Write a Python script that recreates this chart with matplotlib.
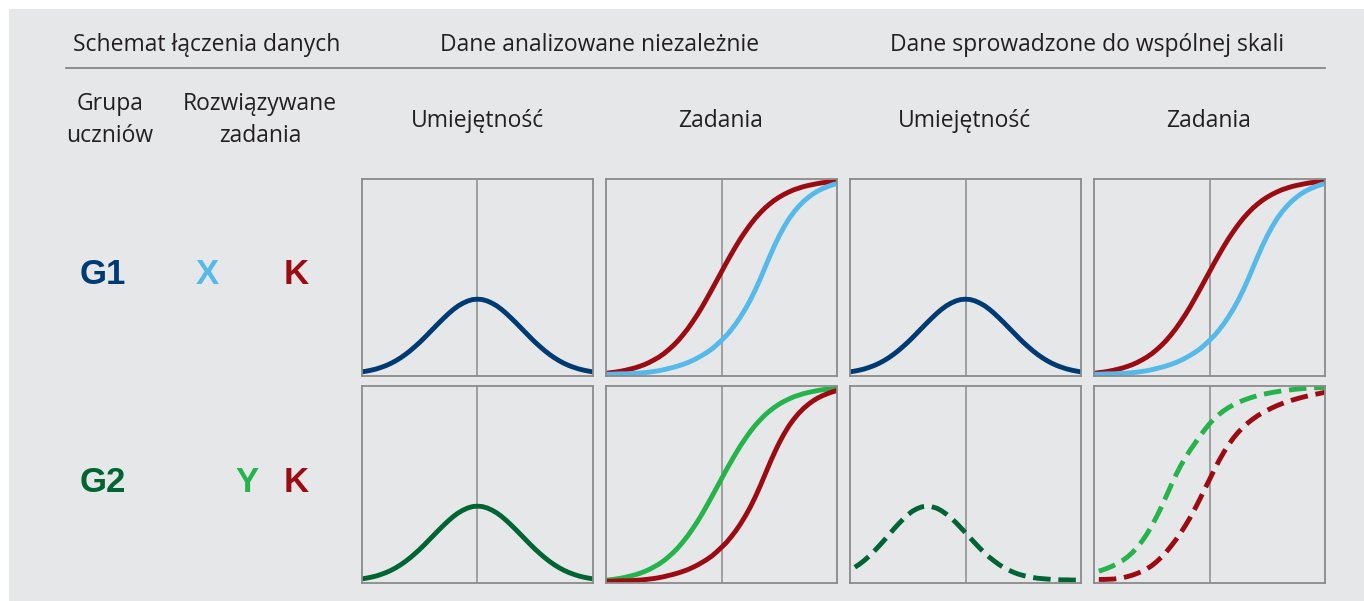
import matplotlib
matplotlib.use("Agg")
import matplotlib.pyplot as plt
from matplotlib.lines import Line2D
from matplotlib.patches import Rectangle

plt.rcParams['font.family'] = ['Open Sans', 'DejaVu Sans']

# ability scale (x) shared by the panels, step 0.125
x_grid = [-3.0, -2.875, -2.75, -2.625, -2.5, -2.375, -2.25, -2.125, -2.0, -1.875, -1.75, -1.625,
          -1.5, -1.375, -1.25, -1.125, -1.0, -0.875, -0.75, -0.625, -0.5, -0.375, -0.25, -0.125,
          0.0, 0.125, 0.25, 0.375, 0.5, 0.625, 0.75, 0.875, 1.0, 1.125, 1.25, 1.375,
          1.5, 1.625, 1.75, 1.875, 2.0, 2.125, 2.25, 2.375, 2.5, 2.625, 2.75, 2.875, 3.0]

# skill distributions (height as share of panel)
skill_g1 = [0.021, 0.025, 0.030, 0.036, 0.044, 0.053, 0.064, 0.077, 0.092, 0.109, 0.128, 0.149,
            0.171, 0.195, 0.220, 0.245, 0.270, 0.294, 0.317, 0.338, 0.356, 0.370, 0.381, 0.388,
            0.390, 0.388, 0.381, 0.370, 0.356, 0.338, 0.317, 0.294, 0.270, 0.245, 0.220, 0.195,
            0.171, 0.149, 0.128, 0.109, 0.092, 0.077, 0.064, 0.053, 0.044, 0.036, 0.030, 0.025, 0.021]
skill_g2 = [0.021, 0.025, 0.030, 0.036, 0.044, 0.053, 0.064, 0.077, 0.092, 0.109, 0.128, 0.149,
            0.171, 0.195, 0.220, 0.245, 0.270, 0.294, 0.317, 0.338, 0.356, 0.370, 0.381, 0.388,
            0.390, 0.388, 0.381, 0.370, 0.356, 0.338, 0.317, 0.294, 0.270, 0.245, 0.220, 0.195,
            0.171, 0.149, 0.128, 0.109, 0.092, 0.077, 0.064, 0.053, 0.044, 0.036, 0.030, 0.025, 0.021]

# item curves, independent analysis
task_k_g1 = [0.014, 0.017, 0.020, 0.024, 0.029, 0.035, 0.041, 0.049, 0.058, 0.069, 0.082, 0.096,
             0.113, 0.133, 0.155, 0.180, 0.209, 0.240, 0.275, 0.312, 0.352, 0.395, 0.439, 0.484,
             0.529, 0.574, 0.617, 0.659, 0.699, 0.735, 0.769, 0.800, 0.827, 0.852, 0.873, 0.892,
             0.908, 0.922, 0.934, 0.945, 0.953, 0.961, 0.967, 0.972, 0.977, 0.981, 0.984, 0.986, 0.989]
task_x_g1 = [0.009, 0.009, 0.010, 0.011, 0.011, 0.012, 0.013, 0.015, 0.017, 0.020, 0.023, 0.027,
             0.032, 0.038, 0.044, 0.051, 0.059, 0.068, 0.079, 0.091, 0.105, 0.120, 0.137, 0.158,
             0.181, 0.205, 0.234, 0.266, 0.302, 0.342, 0.386, 0.436, 0.490, 0.548, 0.606, 0.661,
             0.712, 0.757, 0.797, 0.831, 0.860, 0.885, 0.906, 0.924, 0.939, 0.951, 0.961, 0.970, 0.977]
task_y_g2 = [0.014, 0.017, 0.020, 0.024, 0.029, 0.035, 0.041, 0.049, 0.058, 0.069, 0.082, 0.096,
             0.113, 0.133, 0.155, 0.180, 0.209, 0.240, 0.275, 0.312, 0.352, 0.395, 0.439, 0.484,
             0.529, 0.574, 0.617, 0.659, 0.699, 0.735, 0.769, 0.800, 0.827, 0.852, 0.873, 0.892,
             0.908, 0.922, 0.934, 0.945, 0.953, 0.961, 0.967, 0.972, 0.977, 0.981, 0.984, 0.986, 0.989]
task_k_g2 = [0.009, 0.009, 0.010, 0.011, 0.011, 0.012, 0.013, 0.015, 0.017, 0.020, 0.023, 0.027,
             0.032, 0.038, 0.044, 0.051, 0.059, 0.068, 0.079, 0.091, 0.105, 0.120, 0.137, 0.158,
             0.181, 0.205, 0.234, 0.266, 0.302, 0.342, 0.386, 0.436, 0.490, 0.548, 0.606, 0.661,
             0.712, 0.757, 0.797, 0.831, 0.860, 0.885, 0.906, 0.924, 0.939, 0.951, 0.961, 0.970, 0.977]

# G2 after linking to the common scale (dashed)
x_linked = x_grid[1:]
skill_g2_linked = [0.080, 0.096, 0.115, 0.137, 0.161, 0.187, 0.214, 0.242, 0.271, 0.298, 0.323,
                   0.346, 0.365, 0.378, 0.387, 0.390, 0.387, 0.380, 0.367, 0.350, 0.330, 0.307, 0.281,
                   0.255, 0.228, 0.202, 0.176, 0.152, 0.130, 0.111, 0.093, 0.078, 0.065, 0.054, 0.045,
                   0.038, 0.032, 0.028, 0.024, 0.022, 0.020, 0.018, 0.017, 0.016, 0.016, 0.015, 0.015, 0.015]
task_y_linked = [0.060, 0.068, 0.077, 0.088, 0.101, 0.115, 0.133, 0.155, 0.182, 0.213, 0.249,
                 0.290, 0.336, 0.386, 0.440, 0.495, 0.547, 0.595, 0.637, 0.675, 0.710, 0.745, 0.778,
                 0.808, 0.834, 0.856, 0.875, 0.891, 0.905, 0.917, 0.927, 0.936, 0.944, 0.951, 0.957,
                 0.962, 0.967, 0.971, 0.975, 0.978, 0.981, 0.984, 0.986, 0.988, 0.990, 0.991, 0.992, 0.993]
task_k_linked = [0.018, 0.018, 0.019, 0.020, 0.023, 0.027, 0.033, 0.040, 0.049, 0.059, 0.072,
                 0.088, 0.108, 0.131, 0.157, 0.187, 0.219, 0.254, 0.292, 0.333, 0.378, 0.426, 0.476,
                 0.525, 0.575, 0.622, 0.665, 0.703, 0.737, 0.766, 0.791, 0.813, 0.832, 0.849, 0.864,
                 0.877, 0.889, 0.900, 0.910, 0.919, 0.927, 0.934, 0.941, 0.947, 0.953, 0.958, 0.963, 0.968]

DARK_BLUE = '#003a73'
LIGHT_BLUE = '#55b9e9'
RED = '#9c0a12'
GREEN = '#25b34b'
DARK_GREEN = '#006532'
BG = '#e6e7e9'
FRAME = '#8b8b8b'
TXT = '#231f20'

W, H = 1364, 601
fig = plt.figure(figsize=(W / 100, H / 100), dpi=100)
fig.patch.set_facecolor('white')
fig.add_artist(Rectangle((9 / W, 0), (W - 9) / W, (H - 9) / H, transform=fig.transFigure,
                         facecolor=BG, edgecolor='none', zorder=-10))


def fx(px):
    return px / W


def fy(py):
    return 1 - py / H


def panel(col, row):
    lefts = [362, 606, 850, 1094]
    tops = [179, 386]
    w, h = 231, 197
    ax = fig.add_axes([fx(lefts[col]), fy(tops[row] + h), w / W, h / H])
    ax.set_facecolor(BG)
    ax.set_xlim(-3, 3)
    ax.set_ylim(0, 1)
    ax.set_xticks([])
    ax.set_yticks([])
    for s in ax.spines.values():
        s.set_color(FRAME)
        s.set_linewidth(1.3)
    ax.axvline(0, color=FRAME, lw=1.1, zorder=1)
    return ax


lw = 3.5
dash = (0, (3.6, 1.6))

ax = panel(0, 0)
ax.plot(x_grid, skill_g1, color=DARK_BLUE, lw=lw, solid_capstyle='butt')
ax = panel(1, 0)
ax.plot(x_grid, task_k_g1, color=RED, lw=lw, solid_capstyle='butt')
ax.plot(x_grid, task_x_g1, color=LIGHT_BLUE, lw=lw, solid_capstyle='butt')
ax = panel(2, 0)
ax.plot(x_grid, skill_g1, color=DARK_BLUE, lw=lw, solid_capstyle='butt')
ax = panel(3, 0)
ax.plot(x_grid, task_k_g1, color=RED, lw=lw, solid_capstyle='butt')
ax.plot(x_grid, task_x_g1, color=LIGHT_BLUE, lw=lw, solid_capstyle='butt')

ax = panel(0, 1)
ax.plot(x_grid, skill_g2, color=DARK_GREEN, lw=lw, solid_capstyle='butt')
ax = panel(1, 1)
ax.plot(x_grid, task_y_g2, color=GREEN, lw=lw, solid_capstyle='butt')
ax.plot(x_grid, task_k_g2, color=RED, lw=lw, solid_capstyle='butt')
ax = panel(2, 1)
ax.plot(x_linked, skill_g2_linked, color=DARK_GREEN, lw=lw, ls=dash, dash_capstyle='butt')
ax = panel(3, 1)
ax.plot(x_linked, task_y_linked, color=GREEN, lw=lw, ls=dash, dash_capstyle='butt')
ax.plot(x_linked, task_k_linked, color=RED, lw=lw, ls=dash, dash_capstyle='butt')

# header
hdr = 16.5
fig.text(fx(207), fy(45), 'Schemat łączenia danych', ha='center', va='center', fontsize=hdr, color=TXT)
fig.text(fx(600), fy(45), 'Dane analizowane niezależnie', ha='center', va='center', fontsize=hdr, color=TXT)
fig.text(fx(1087), fy(45), 'Dane sprowadzone do wspólnej skali', ha='center', va='center', fontsize=hdr, color=TXT)
fig.add_artist(Line2D([fx(66), fx(1325)], [fy(68), fy(68)], transform=fig.transFigure, color='#7f7f7f', lw=1.2))

fig.text(fx(110), fy(120), 'Grupa\nuczniów', ha='center', va='center', fontsize=hdr, color=TXT, linespacing=1.4)
fig.text(fx(260), fy(120), 'Rozwiązywane\nzadania', ha='center', va='center', fontsize=hdr, color=TXT, linespacing=1.4)
for cx, lab in zip([477, 721, 965, 1209], ['Umiejętność', 'Zadania', 'Umiejętność', 'Zadania']):
    fig.text(fx(cx), fy(121), lab, ha='center', va='center', fontsize=hdr, color=TXT)

# row labels
big = dict(ha='center', va='center', fontsize=25, fontweight='bold', family=['Liberation Sans', 'DejaVu Sans'])
fig.text(fx(103), fy(274), 'G1', color=DARK_BLUE, **big)
fig.text(fx(207), fy(274), 'X', color=LIGHT_BLUE, **big)
fig.text(fx(296), fy(274), 'K', color=RED, **big)
fig.text(fx(103), fy(482), 'G2', color=DARK_GREEN, **big)
fig.text(fx(247), fy(482), 'Y', color=GREEN, **big)
fig.text(fx(296), fy(482), 'K', color=RED, **big)

fig.savefig('out.png', dpi=100, facecolor=fig.get_facecolor())
